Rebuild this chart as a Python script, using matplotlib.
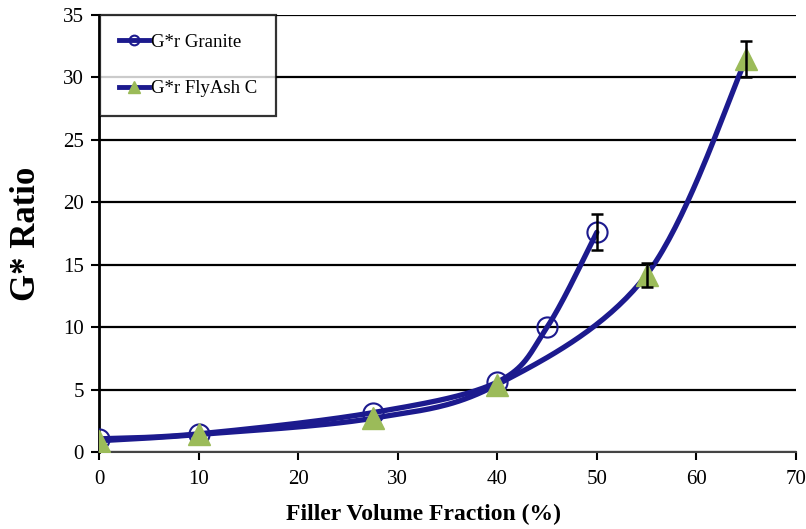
import numpy as np
import matplotlib
matplotlib.use("Agg")
import matplotlib.pyplot as plt
from matplotlib.lines import Line2D

# ---- data ----
granite_x = [0, 10, 27.5, 40, 45, 50]
granite_y = [1.05, 1.45, 3.15, 5.6, 10.0, 17.6]
granite_err = [0, 0, 0, 0, 0, 1.45]

flyash_x = [0, 10, 27.5, 40, 55, 65]
flyash_y = [0.9, 1.4, 2.7, 5.4, 14.2, 31.5]
flyash_err = [0, 0, 0, 0, 0.95, 1.45]

x_ticks = [0, 10, 20, 30, 40, 50, 60, 70]
y_ticks = [0, 5, 10, 15, 20, 25, 30, 35]

NAVY = "#1c1a8e"
GREEN = "#9bbb59"

def smooth(xs, ys, sx=9.96, sy=12.49, n=40):
    # Excel-like smoothing (Catmull-Rom / Bezier) done in pixel-scaled space
    P = np.column_stack([np.asarray(xs) * sx, np.asarray(ys) * sy])
    out = []
    for i in range(len(P) - 1):
        p0 = P[i - 1] if i > 0 else P[i]
        p1 = P[i]
        p2 = P[i + 1]
        p3 = P[i + 2] if i + 2 < len(P) else P[i + 1]
        c1 = p1 + (p2 - p0) / 6.0
        c2 = p2 - (p3 - p1) / 6.0
        t = np.linspace(0, 1, n)[:, None]
        seg = ((1 - t) ** 3) * p1 + 3 * ((1 - t) ** 2) * t * c1 + 3 * (1 - t) * t ** 2 * c2 + t ** 3 * p2
        out.append(seg if i == 0 else seg[1:])
    out = np.vstack(out)
    return out[:, 0] / sx, out[:, 1] / sy

plt.rcParams['font.family'] = ['Liberation Serif', 'DejaVu Serif']

fig = plt.figure(figsize=(8.06, 5.29), dpi=100)
ax = fig.add_axes([0.1228, 0.1456, 0.8648, 0.826])

# curves
gx, gy = smooth(granite_x, granite_y)
fx, fy = smooth(flyash_x, flyash_y)
ax.plot(gx, gy, color=NAVY, lw=3.8, zorder=3, solid_capstyle='round')
ax.plot(fx, fy, color=NAVY, lw=3.8, zorder=3, solid_capstyle='round')

# error bars
ge = [(x, y, e) for x, y, e in zip(granite_x, granite_y, granite_err) if e > 0]
fe = [(x, y, e) for x, y, e in zip(flyash_x, flyash_y, flyash_err) if e > 0]
for pts in (ge, fe):
    ax.errorbar([p[0] for p in pts], [p[1] for p in pts], yerr=[p[2] for p in pts],
                fmt='none', ecolor='black', elinewidth=1.8, capsize=4, capthick=1.8, zorder=5)

# markers
ax.plot(granite_x, granite_y, ls='none', marker='o', ms=14.5, mfc='none', mec=NAVY, mew=1.5, zorder=4)
ax.plot(flyash_x, flyash_y, ls='none', marker='^', ms=15.5, mfc=GREEN, mec=GREEN, zorder=4)

ax.set_xlim(0, 70)
ax.set_ylim(0, 35)
ax.set_xticks(x_ticks)
ax.set_yticks(y_ticks)
ax.tick_params(axis='both', labelsize=15, direction='out', length=6, width=1.5, color='black')
ax.tick_params(axis='x', pad=7)
ax.tick_params(axis='y', pad=5)

ax.yaxis.grid(True, color='black', lw=1.6)
ax.set_axisbelow(True)
for s in ['top', 'right']:
    ax.spines[s].set_visible(False)
ax.spines['left'].set_linewidth(2.0)
ax.spines['bottom'].set_linewidth(1.5)
ax.spines['bottom'].set_color('#444444')
ax.spines['left'].set_zorder(2)

ax.set_xlabel('Filler Volume Fraction (%)', fontsize=17, fontweight='bold')
ax.xaxis.set_label_coords(0.466, -0.118)
ax.set_ylabel('G* Ratio', fontsize=25, fontweight='bold', labelpad=14)

handles = [
    Line2D([0], [0], color=NAVY, lw=3.5, marker='o', ms=7, mfc='none', mec=NAVY, mew=1.5),
    Line2D([0], [0], color=NAVY, lw=3.5, marker='^', ms=9, mfc=GREEN, mec=GREEN),
]
leg = ax.legend(handles, ['G*r Granite', 'G*r FlyAsh C'], loc='upper left',
                bbox_to_anchor=(0.002, 1.0), fontsize=13.5, frameon=True, fancybox=False,
                handlelength=1.6, handletextpad=0.1, labelspacing=1.55,
                borderpad=1.0, borderaxespad=0.0)
leg.get_frame().set_edgecolor('black')
leg.get_frame().set_linewidth(1.6)
leg.set_zorder(10)

fig.savefig('out.png', dpi=100)
